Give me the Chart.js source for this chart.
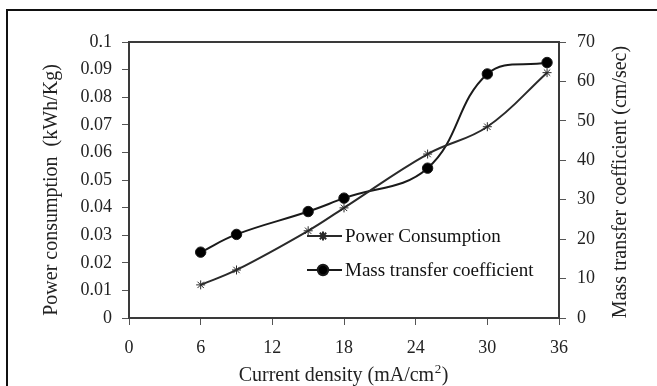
<!DOCTYPE html>
<html>
<head>
<meta charset="utf-8">
<script src="https://cdn.jsdelivr.net/npm/chart.js@4.4.1/dist/chart.umd.min.js"></script>
<style>
  html, body { margin:0; padding:0; background:#fff; }
  #wrap { width:657px; height:386px; position:relative; }
</style>
</head>
<body>
<div id="wrap"><canvas id="chart" width="657" height="386"></canvas></div>
<script>
// data
const currentDensity = [6, 9, 15, 18, 25, 30, 35];
const powerConsumption = [0.012, 0.0174, 0.0316, 0.0399, 0.0594, 0.0693, 0.0889];
const massTransfer = [16.7, 21.2, 27.0, 30.4, 38.0, 61.9, 64.8];
const xTicks = [0, 6, 12, 18, 24, 30, 36];
const leftTicks = [0, 0.01, 0.02, 0.03, 0.04, 0.05, 0.06, 0.07, 0.08, 0.09, 0.1];
const rightTicks = [0, 10, 20, 30, 40, 50, 60, 70];
const leftTitle = 'Power consumption  (kWh/Kg)';
const rightTitle = 'Mass transfer coefficient (cm/sec)';
const xTitle = ['Current density (mA/cm', '2', ')'];

const FONT = 'Liberation Serif';
const INK = '#222';
const TICK_SIZE = 18;
const TITLE_SIZE = 20;

const setTicks = list => scale => { scale.ticks = list.map(v => ({ value: v })); };

function vText(c, text, x, y){
  c.save();
  c.translate(x, y);
  c.rotate(-Math.PI / 2);
  c.fillText(text, 0, 0);
  c.restore();
}

// outer frame, plot border, axis titles and the in-plot legend
const decor = {
  id: 'decor',
  beforeDraw(chart){
    const c = chart.ctx;
    c.save();
    c.fillStyle = '#fff';
    c.fillRect(0, 0, chart.width, chart.height);
    c.strokeStyle = '#111';
    c.lineWidth = 2;
    c.beginPath();
    c.moveTo(7, 400); c.lineTo(7, 10); c.lineTo(700, 10);
    c.stroke();
    c.restore();
  },
  afterDraw(chart){
    const c = chart.ctx;
    c.save();
    c.fillStyle = INK;
    c.font = TITLE_SIZE + 'px "' + FONT + '"';
    c.textAlign = 'center';
    c.textBaseline = 'middle';
    vText(c, leftTitle, 52, 190);
    vText(c, rightTitle, 621, 182);

    // x title with a raised small 2
    const big = TITLE_SIZE + 'px "' + FONT + '"';
    const small = Math.round(TITLE_SIZE * 0.65) + 'px "' + FONT + '"';
    c.font = big;
    const w0 = c.measureText(xTitle[0]).width, w2 = c.measureText(xTitle[2]).width;
    c.font = small;
    const w1 = c.measureText(xTitle[1]).width;
    let x = 343 - (w0 + w1 + w2) / 2;
    const base = 381;
    c.textAlign = 'left';
    c.textBaseline = 'alphabetic';
    c.font = big; c.fillText(xTitle[0], x, base); x += w0;
    c.font = small; c.fillText(xTitle[1], x + 0.5, base - 8); x += w1 + 1;
    c.font = big; c.fillText(xTitle[2], x, base);
    c.restore();
  },
  afterDatasetsDraw(chart){
    const c = chart.ctx, a = chart.chartArea;
    c.save();
    c.strokeStyle = '#3a3a3a';
    c.lineWidth = 2;
    c.strokeRect(a.left, a.top, a.right - a.left, a.bottom - a.top);

    const rows = [{ i:0, y:236 }, { i:1, y:270 }];
    rows.forEach(r => {
      const ds = chart.data.datasets[r.i];
      c.strokeStyle = ds.borderColor;
      c.lineWidth = ds.borderWidth;
      c.beginPath(); c.moveTo(307, r.y); c.lineTo(342, r.y); c.stroke();
      c.fillStyle = ds.backgroundColor;
      Chart.helpers.drawPoint(c, {
        pointStyle: ds.pointStyle, radius: ds.pointRadius, borderWidth: ds.pointBorderWidth || 1, rotation: 0
      }, 323, r.y);
      c.fillStyle = '#111';
      c.font = '19px "' + FONT + '"';
      c.textBaseline = 'middle';
      c.textAlign = 'left';
      c.fillText(ds.label, 345, r.y + 1);
    });
    c.restore();
  }
};

new Chart(document.getElementById('chart'), {
  type: 'line',
  data: {
    datasets: [
      {
        label: 'Power Consumption',
        data: currentDensity.map((x, i) => ({ x, y: powerConsumption[i] })),
        yAxisID: 'y',
        borderColor: '#2a2a2a',
        backgroundColor: '#2a2a2a',
        borderWidth: 2,
        pointStyle: 'star',
        pointRadius: 4.5,
        pointBorderWidth: 1,
        tension: 0.4
      },
      {
        label: 'Mass transfer coefficient',
        data: currentDensity.map((x, i) => ({ x, y: massTransfer[i] })),
        yAxisID: 'y1',
        borderColor: '#1a1a1a',
        backgroundColor: '#000',
        borderWidth: 2,
        pointStyle: 'circle',
        pointRadius: 5.2,
        pointBorderWidth: 1,
        tension: 0.4
      }
    ]
  },
  options: {
    responsive: false,
    animation: false,
    devicePixelRatio: 1,
    layout: { padding: { left: 37, right: 24, top: 42, bottom: 0 } },
    plugins: { legend: { display: false }, tooltip: { enabled: false } },
    scales: {
      x: {
        type: 'linear', min: 0, max: 36,
        afterBuildTicks: setTicks(xTicks),
        afterFit(s){ s.height = 68; },
        grid: { drawOnChartArea: false, tickLength: 7, color: '#555', lineWidth: 1 },
        border: { color: '#3a3a3a', width: 2 },
        ticks: { padding: 12, color: INK, font: { family: FONT, size: TICK_SIZE }, maxRotation: 0 },
        title: { display: false }
      },
      y: {
        position: 'left', min: 0, max: 0.1,
        afterBuildTicks: setTicks(leftTicks),
        afterFit(s){ s.width = 92; },
        grid: { drawOnChartArea: false, tickLength: 7, color: '#555' },
        border: { color: '#3a3a3a', width: 2 },
        ticks: { padding: 10, color: INK, font: { family: FONT, size: TICK_SIZE },
                 callback: v => String(Number(v.toFixed(2))) },
        title: { display: false }
      },
      y1: {
        position: 'right', min: 0, max: 70,
        afterBuildTicks: setTicks(rightTicks),
        afterFit(s){ s.width = 74; },
        grid: { drawOnChartArea: false, tickLength: 7, color: '#555' },
        border: { color: '#3a3a3a', width: 2 },
        ticks: { padding: 11, color: INK, font: { family: FONT, size: TICK_SIZE } },
        title: { display: false }
      }
    }
  },
  plugins: [decor]
});
</script>
</body>
</html>
